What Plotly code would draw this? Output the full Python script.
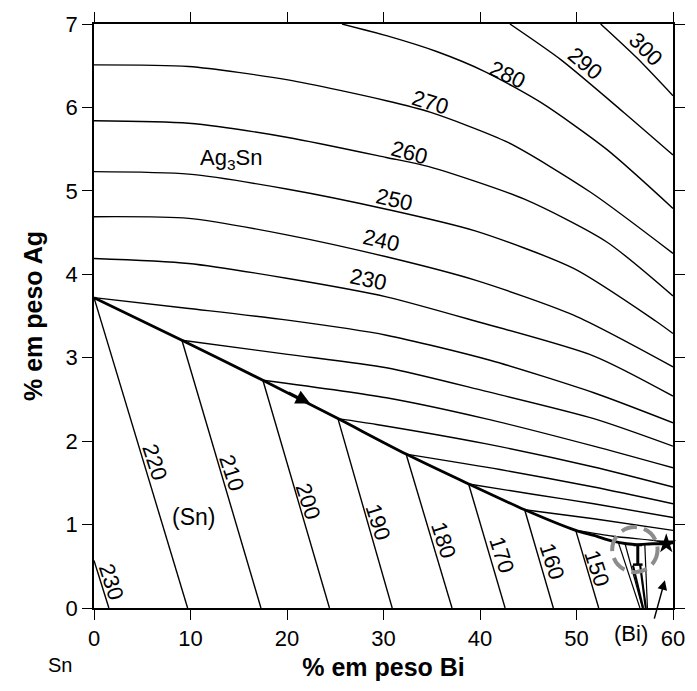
import plotly.graph_objects as go

# ---- Ag3Sn primary field: liquidus isotherms (wt% Bi, wt% Ag) ----
t300_x = [52.5, 56.2, 60.0]
t300_y = [7.0, 6.60, 6.14]
t290_x = [43.1, 48.4, 54.9, 60.0]
t290_y = [7.0, 6.57, 5.94, 5.43]
t280_x = [25.7, 30.3, 35.5, 40.5, 46.3, 53.1, 60.0]
t280_y = [7.0, 6.86, 6.67, 6.43, 6.06, 5.50, 4.79]
t270_x = [0.0, 9.8, 20.1, 30.3, 34.9, 42.9, 51.5, 60.0]
t270_y = [6.51, 6.49, 6.33, 6.08, 5.94, 5.58, 4.98, 4.25]
t260_x = [0.0, 9.8, 20.1, 30.3, 34.7, 44.6, 53.1, 60.0]
t260_y = [5.84, 5.81, 5.64, 5.40, 5.29, 4.90, 4.39, 3.74]
t250_x = [0.0, 9.8, 20.1, 30.3, 39.5, 49.7, 58.2, 60.0]
t250_y = [5.23, 5.20, 5.02, 4.78, 4.52, 4.07, 3.44, 3.29]
t240_x = [0.0, 9.8, 20.1, 30.3, 39.5, 49.7, 60.0]
t240_y = [4.69, 4.67, 4.47, 4.21, 3.93, 3.51, 2.89]
t230_x = [0.0, 9.8, 20.1, 30.3, 39.5, 51.8, 60.0]
t230_y = [4.19, 4.13, 3.95, 3.73, 3.44, 3.02, 2.54]
t220_x = [0.0, 9.83, 20.06, 30.3, 41.04, 51.79, 60.0]
t220_y = [3.72, 3.59, 3.45, 3.27, 2.97, 2.58, 2.22]
t210_x = [9.11, 20.06, 30.3, 40.53, 51.79, 60.0]
t210_y = [3.21, 3.04, 2.88, 2.60, 2.27, 1.94]
t200_x = [17.5, 30.3, 40.53, 51.79, 60.0]
t200_y = [2.73, 2.52, 2.27, 1.94, 1.68]
t190_x = [25.28, 29.27, 40.53, 51.79, 60.0]
t190_y = [2.27, 2.20, 1.97, 1.69, 1.45]
t180_x = [32.34, 42.07, 51.79, 60.0]
t180_y = [1.845, 1.66, 1.45, 1.25]
t170_x = [38.82, 45.65, 51.79, 60.0]
t170_y = [1.487, 1.36, 1.25, 1.085]
t160_x = [44.63, 51.79, 60.0]
t160_y = [1.177, 1.07, 0.93]
t150_x = [49.92, 53.8, 57.9, 59.0]
t150_y = [0.93, 0.86, 0.81, 0.79]

# ---- monovariant valley L -> (Sn) + Ag3Sn ----
valley_x = [0.0, 9.11, 17.5, 25.28, 32.34, 38.82, 44.63, 49.92, 51.8, 53.8, 55.2, 56.2, 57.9, 59.0, 60.0]
valley_y = [3.72, 3.21, 2.73, 2.27, 1.845, 1.487, 1.177, 0.93, 0.87, 0.80, 0.77, 0.76, 0.77, 0.77, 0.78]

# ---- (Sn) primary field isotherms: start point on the valley, end on the Sn-Bi edge ----
sn_temps = [230, 220, 210, 200, 190, 180, 170, 160, 150]
sn_x0 = [0.0, 0.0, 9.11, 17.5, 25.28, 32.34, 38.82, 44.63, 49.92]
sn_y0 = [0.57, 3.72, 3.21, 2.73, 2.27, 1.845, 1.487, 1.177, 0.93]
sn_x1 = [1.54, 9.7, 17.3, 24.4, 30.9, 37.1, 42.6, 47.6, 52.3]

# ---- lines converging on the (Bi) corner ----
bi_x0 = [54.35, 55.03, 57.08]
bi_y0 = [0.78, 0.77, 0.76]
bi_x1 = [56.57, 56.84, 57.35]
bi_thick_x0 = [55.85, 56.6]
bi_thick_y0 = [0.51, 0.51]
bi_thick_x1 = [56.9, 57.18]

# ternary point
tern_x = [59.3]
tern_y = [0.77]

# ---- isotherm labels ----
upper_labels = ["230", "240", "250", "260", "270", "280", "290", "300"]
upper_lx = [28.45, 29.8, 31.1, 32.65, 34.9, 42.8, 50.9, 57.2]
upper_ly = [3.94, 4.41, 4.90, 5.46, 6.06, 6.39, 6.53, 6.69]
upper_ang = [12, 13, 13, 15, 17, 25, 40, 45]
lower_labels = ["230", "220", "210", "200", "190", "180", "170", "160", "150"]
lower_lx = [1.84, 6.35, 14.23, 22.21, 29.48, 36.23, 42.27, 47.49, 52.1]
lower_ly = [0.31, 1.75, 1.62, 1.28, 1.03, 0.81, 0.63, 0.56, 0.47]

FONT = "Liberation Sans, Arial, Helvetica, sans-serif"
THIN = 1.4

fig = go.Figure()


def add_line(x, y, width=THIN, spline=True):
    fig.add_trace(go.Scatter(
        x=x, y=y, mode="lines", hoverinfo="skip", showlegend=False,
        line=dict(color="black", width=width,
                  shape="spline" if spline else "linear", smoothing=0.7),
        cliponaxis=True))


for xs, ys in [(t300_x, t300_y), (t290_x, t290_y), (t280_x, t280_y),
               (t270_x, t270_y), (t260_x, t260_y), (t250_x, t250_y),
               (t240_x, t240_y), (t230_x, t230_y), (t220_x, t220_y),
               (t210_x, t210_y), (t200_x, t200_y), (t190_x, t190_y),
               (t180_x, t180_y), (t170_x, t170_y), (t160_x, t160_y),
               (t150_x, t150_y)]:
    add_line(xs, ys)

for x0, y0, x1 in zip(sn_x0, sn_y0, sn_x1):
    add_line([x0, x1], [y0, 0.0], spline=False)

for x0, y0, x1 in zip(bi_x0, bi_y0, bi_x1):
    add_line([x0, x1], [y0, 0.0], width=1.2, spline=False)
for x0, y0, x1 in zip(bi_thick_x0, bi_thick_y0, bi_thick_x1):
    add_line([x0, x1], [y0, 0.0], width=2.2, spline=False)

# small bar marker below the eutectic point
add_line([56.35, 56.35], [0.76, 0.52], width=3, spline=False)
add_line([55.85, 56.85], [0.52, 0.52], width=2.5, spline=False)
add_line([55.9, 56.8], [0.755, 0.755], width=2.5, spline=False)

# valley (bold)
add_line(valley_x, valley_y, width=2.8)

fig.add_trace(go.Scatter(
    x=tern_x, y=tern_y, mode="markers", hoverinfo="skip", showlegend=False,
    marker=dict(symbol="star", size=15, color="black", line=dict(width=0)),
    cliponaxis=False))

annotations = []
for t, x, y, a in zip(upper_labels, upper_lx, upper_ly, upper_ang):
    annotations.append(dict(x=x, y=y, xref="x", yref="y", text=t, showarrow=False,
                            textangle=a, font=dict(family=FONT, size=22, color="black")))
for t, x, y in zip(lower_labels, lower_lx, lower_ly):
    annotations.append(dict(x=x, y=y, xref="x", yref="y", text=t, showarrow=False,
                            textangle=72, font=dict(family=FONT, size=22, color="black")))

annotations += [
    dict(x=14.2, y=5.38, xref="x", yref="y", text="Ag<sub>3</sub>Sn", showarrow=False,
         font=dict(family=FONT, size=22, color="black")),
    dict(x=10.3, y=1.085, xref="x", yref="y", text="(Sn)", showarrow=False,
         font=dict(family=FONT, size=23, color="black")),
    # labels below the axis, placed in paper coordinates
    dict(x=0.928, y=-0.043, xref="paper", yref="paper", xanchor="center", yanchor="middle",
         text="(Bi)", showarrow=False, font=dict(family=FONT, size=22, color="black")),
    dict(x=-0.058, y=-0.097, xref="paper", yref="paper", xanchor="center", yanchor="middle",
         text="Sn", showarrow=False, font=dict(family=FONT, size=20, color="black")),
    # direction of falling temperature along the valley
    dict(x=22.4, y=2.45, ax=20.0, ay=2.59, xref="x", yref="y", axref="x", ayref="y",
         text="", showarrow=True, arrowhead=2, arrowsize=1.1, arrowwidth=2.6,
         arrowcolor="black"),
    # pointer to the (Bi) corner
    dict(x=59.16, y=0.334, ax=-11, ay=40, xref="x", yref="y",
         text="", showarrow=True, arrowhead=2, arrowsize=1.3, arrowwidth=1.5,
         arrowcolor="black"),
]

axis_common = dict(
    showline=True, linecolor="black", linewidth=1.5, mirror="ticks",
    ticks="outside", ticklen=10, tickwidth=1.3, tickcolor="black",
    showgrid=False, zeroline=False,
    tickfont=dict(family=FONT, size=22, color="black"),
)

fig.update_layout(
    width=697, height=691,
    margin=dict(l=94, r=17, t=21, b=83),
    paper_bgcolor="white", plot_bgcolor="white",
    xaxis=dict(range=[0, 60], tickvals=[0, 10, 20, 30, 40, 50, 60],
               title=dict(text="<b>% em peso Bi</b>", standoff=8,
                          font=dict(family=FONT, size=25, color="black")),
               **axis_common),
    yaxis=dict(range=[0, 7], tickvals=[0, 1, 2, 3, 4, 5, 6, 7],
               title=dict(text="<b>% em peso Ag</b>", standoff=16,
                          font=dict(family=FONT, size=25, color="black")),
               **axis_common),
    annotations=annotations,
    shapes=[dict(type="circle", xref="x", yref="y", x0=53.7, x1=58.4, y0=0.43, y1=0.97,
                 line=dict(color="#8c8c8c", width=4, dash="16px,7px"))],
)

fig.write_html("out.html")
